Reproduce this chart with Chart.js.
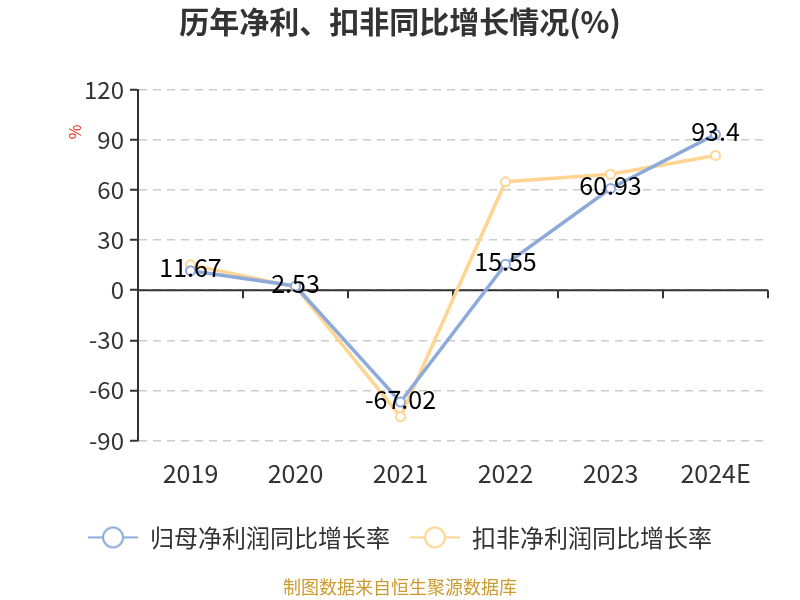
<!DOCTYPE html>
<html>
<head>
<meta charset="utf-8">
<script src="https://cdn.jsdelivr.net/npm/chart.js@4"></script>
<style>
  html, body { margin: 0; padding: 0; background: #fff; }
  #wrap { width: 800px; height: 600px; }
</style>
</head>
<body>
<div id="wrap"><canvas id="myChart"></canvas></div>
<script>
// values
let years = ['2019', '2020', '2021', '2022', '2023', '2024E']
let netProfitGrowth = [11.67, 2.53, -67.02, 15.55, 60.93, 93.4]     // 归母净利润同比增长率
let deductedProfitGrowth = [15.2, 2.1, -75.8, 65.0, 69.5, 80.8]     // 扣非净利润同比增长率
let yMin = -90
let yMax = 120
let yStep = 30

let blue = '#8eaadb'
let orange = '#ffd591'
let cjk = '"Noto Sans CJK SC", "Noto Sans", sans-serif'

// legend symbol: short line with a hollow circle on it
function legendIcon(color) {
    let c = document.createElement('canvas')
    c.width = 50
    c.height = 24
    let g = c.getContext('2d')
    g.strokeStyle = color
    g.lineWidth = 2
    g.beginPath()
    g.moveTo(0, 12)
    g.lineTo(50, 12)
    g.stroke()
    g.beginPath()
    g.arc(25, 12, 10, 0, Math.PI * 2)
    g.fillStyle = '#fff'
    g.fill()
    g.stroke()
    return c
}
let icons = [legendIcon(blue), legendIcon(orange)]

// zero line with tick marks, value labels on the first series, unit text
let extras = {
    id: 'extras',
    beforeDatasetsDraw(chart) {
        let ctx = chart.ctx
        let x = chart.scales.x
        let y = chart.scales.y
        let y0 = y.getPixelForValue(0)
        ctx.save()
        ctx.strokeStyle = '#333'
        ctx.lineWidth = 2
        ctx.beginPath()
        ctx.moveTo(chart.chartArea.left, y0)
        ctx.lineTo(chart.chartArea.right, y0)
        let half = (x.getPixelForValue(1) - x.getPixelForValue(0)) / 2
        for (let i = 0; i < years.length; i++) {
            let px = x.getPixelForValue(i) + half
            ctx.moveTo(px, y0)
            ctx.lineTo(px, y0 + 8)
        }
        ctx.stroke()
        ctx.restore()
    },
    afterDatasetsDraw(chart) {
        let ctx = chart.ctx
        let meta = chart.getDatasetMeta(0)
        ctx.save()
        ctx.font = '25px ' + cjk
        ctx.fillStyle = '#000'
        ctx.textAlign = 'center'
        ctx.textBaseline = 'middle'
        meta.data.forEach((pt, i) => {
            ctx.fillText(String(netProfitGrowth[i]), pt.x, pt.y - 3)
        })
        ctx.restore()
    },
    afterDraw(chart) {
        let ctx = chart.ctx
        ctx.save()
        ctx.translate(chart.chartArea.left - 63, chart.chartArea.top + 42)
        ctx.rotate(-Math.PI / 2)
        ctx.font = '16px ' + cjk
        ctx.fillStyle = '#e8261b'
        ctx.textAlign = 'center'
        ctx.textBaseline = 'middle'
        ctx.fillText('%', 0, 0)
        ctx.restore()
    }
}

let ctx = document.getElementById('myChart').getContext('2d')

let myChart = new Chart(ctx, {
    type: 'line',
    data: {
        labels: years,
        datasets: [
            {
                label: '归母净利润同比增长率',
                data: netProfitGrowth,
                borderColor: blue,
                backgroundColor: '#fff',
                borderWidth: 3.5,
                pointRadius: 4.5,
                pointBorderWidth: 2,
                pointBackgroundColor: '#fff',
                pointBorderColor: blue,
                tension: 0
            },
            {
                label: '扣非净利润同比增长率',
                data: deductedProfitGrowth,
                borderColor: orange,
                backgroundColor: '#fff',
                borderWidth: 3.5,
                pointRadius: 4.5,
                pointBorderWidth: 2,
                pointBackgroundColor: '#fff',
                pointBorderColor: orange,
                tension: 0
            }
        ]
    },
    options: {
        responsive: true,
        maintainAspectRatio: false,
        animation: false,
        layout: { padding: { left: 32, right: 32, top: 0, bottom: 0 } },
        plugins: {
            title: {
                display: true,
                text: '历年净利、扣非同比增长情况(%)',
                color: '#333',
                font: { family: cjk, size: 30, weight: 'bold' },
                padding: { top: 4, bottom: 50 }
            },
            subtitle: {
                display: true,
                position: 'bottom',
                text: '制图数据来自恒生聚源数据库',
                color: '#cc9a2e',
                font: { family: cjk, size: 18 },
                padding: { top: 17, bottom: 2 }
            },
            legend: {
                position: 'bottom',
                labels: {
                    usePointStyle: true,
                    pointStyleWidth: 50,
                    boxHeight: 24,
                    padding: 20,
                    color: '#333',
                    font: { family: cjk, size: 24 },
                    generateLabels(chart) {
                        let items = Chart.defaults.plugins.legend.labels.generateLabels(chart)
                        items.forEach((it, i) => { it.pointStyle = icons[i] })
                        return items
                    }
                }
            },
            tooltip: { enabled: false }
        },
        scales: {
            x: {
                offset: true,
                grid: { display: false },
                border: { display: false },
                ticks: { color: '#333', padding: 10, font: { family: cjk, size: 25 } },
                afterFit(scale) { scale.height = 65 }
            },
            y: {
                min: yMin,
                max: yMax,
                ticks: {
                    stepSize: yStep,
                    color: '#333',
                    padding: 6,
                    font: { family: cjk, size: 24 }
                },
                grid: {
                    color: '#ccc',
                    lineWidth: 1.5,
                    tickColor: '#333',
                    tickLength: 8,
                    tickWidth: 2
                },
                border: { display: true, color: '#333', width: 2, dash: [8, 6] },
                afterFit(scale) { scale.width = 106 }
            }
        }
    },
    plugins: [extras]
})
</script>
</body>
</html>
